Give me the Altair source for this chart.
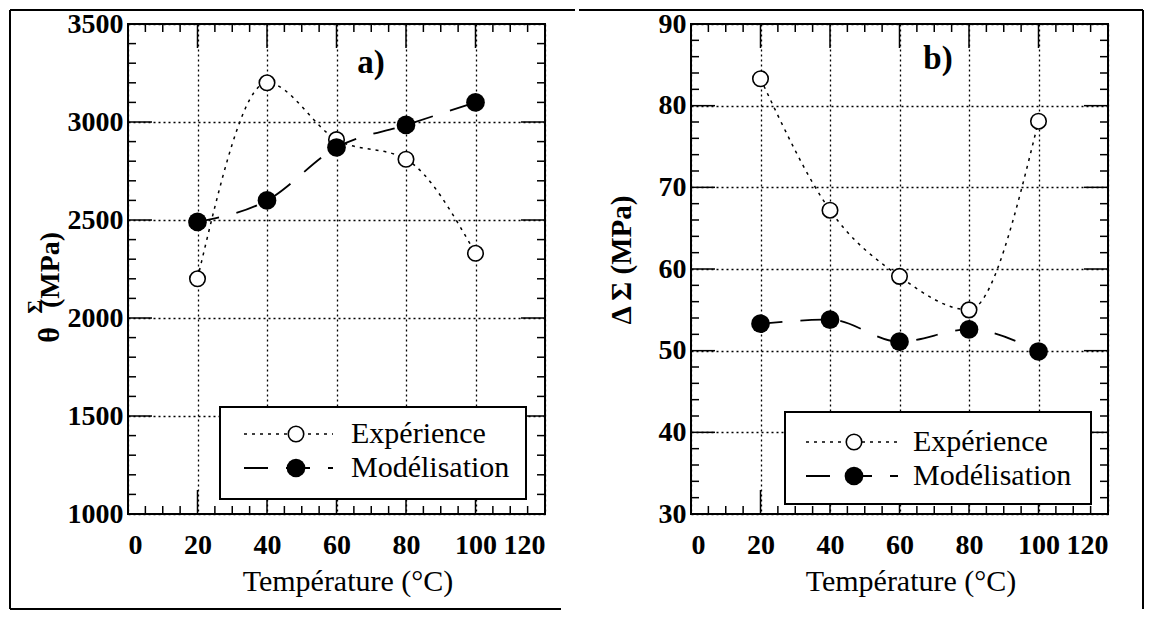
import altair as alt
import pandas as pd

# ---------------- data ----------------
temps = [20, 40, 60, 80, 100]
a_exp = [2200, 3200, 2910, 2810, 2330]
a_mod = [2490, 2600, 2870, 2985, 3100]
b_exp = [83.3, 67.2, 59.1, 55.0, 78.1]
b_mod = [53.3, 53.8, 51.1, 52.6, 49.9]
series = ["Expérience", "Modélisation"]

x_major = [0, 20, 40, 60, 80, 100, 120]
a_y_major = [1000, 1500, 2000, 2500, 3000, 3500]
b_y_major = [30, 40, 50, 60, 70, 80, 90]
x_minor = [v for v in range(0, 121, 5) if v % 20]
a_y_minor = [v for v in range(1000, 3501, 100) if v % 500]
b_y_minor = [v for v in range(30, 91, 2) if v % 10]

W, H = 417, 490
FONT = "Liberation Serif"
ONE = pd.DataFrame({"k": [0]})


def txt(text, x, y, size, weight="normal", align="center", baseline="middle", angle=0):
    kw = dict(text=text, font=FONT, fontSize=size, fontWeight=weight,
              align=align, baseline=baseline, color="black")
    if angle:
        kw["angle"] = angle
    return alt.Chart(ONE).mark_text(**kw).encode(x=alt.value(x), y=alt.value(y))


def hrule(x0, x1, y, width=2, dash=None):
    kw = dict(color="black", strokeWidth=width)
    if dash:
        kw["strokeDash"] = dash
    return alt.Chart(ONE).mark_rule(**kw).encode(
        x=alt.value(x0), x2=alt.value(x1), y=alt.value(y))


def vrule(x, y0, y1, width=2):
    return alt.Chart(ONE).mark_rule(color="black", strokeWidth=width).encode(
        x=alt.value(x), y=alt.value(y0), y2=alt.value(y1))


def build(exp, mod, y_major, y_minor, y_dom, tag, tag_xy, leg, extra):
    xs = alt.Scale(domain=[0, 120], nice=False)
    ys = alt.Scale(domain=y_dom, nice=False, zero=False)
    common = dict(labelFont=FONT, labelFontSize=28, labelFontWeight="bold",
                  labelColor="black", ticks=False, tickSize=0, domain=False,
                  grid=True, gridColor="black", gridDash=[2, 3], gridWidth=1.3,
                  gridOpacity=1, title=None, format="d", labelOverlap=False)
    x_axis = alt.Axis(values=x_major, labelPadding=17, **common)
    y_axis = alt.Axis(values=y_major, labelPadding=5, labelAlign="right",
                      labelBaseline="middle", **common)
    X = alt.X("T:Q", scale=xs, axis=x_axis)
    Y = alt.Y("v:Q", scale=ys, axis=y_axis)

    de = pd.DataFrame({"T": temps, "v": exp, "s": series[0]})
    dm = pd.DataFrame({"T": temps, "v": mod, "s": series[1]})

    line_e = alt.Chart(de).mark_line(color="black", strokeWidth=1.5, strokeDash=[3, 5],
                                     interpolate="monotone").encode(x=X, y=Y)
    line_m = alt.Chart(dm).mark_line(color="black", strokeWidth=1.8, strokeDash=[22, 18],
                                     interpolate="monotone").encode(x=X, y=Y)
    pts_e = alt.Chart(de).mark_point(shape="circle", filled=True, fill="white", stroke="black",
                                     strokeWidth=1.6, size=240, opacity=1).encode(x=X, y=Y)
    pts_m = alt.Chart(dm).mark_point(shape="circle", filled=True, color="black",
                                     size=350, opacity=1).encode(x=X, y=Y)

    ticks = []
    for vals, L in [(x_major, 24), (x_minor, 8)]:
        d = pd.DataFrame({"T": vals})
        for y0, y1 in [(H, H - L), (0, L)]:
            ticks.append(alt.Chart(d).mark_rule(color="black", strokeWidth=1.5).encode(
                x=X, y=alt.value(y0), y2=alt.value(y1)))
    for vals, L in [(y_major, 24), (y_minor, 8)]:
        d = pd.DataFrame({"v": vals})
        for x0, x1 in [(0, L), (W, W - L)]:
            ticks.append(alt.Chart(d).mark_rule(color="black", strokeWidth=1.5).encode(
                y=Y, x=alt.value(x0), x2=alt.value(x1)))

    bx0, bx1, by0, by1, r1, r2, sx0, sx1, cx, tx = leg
    legend = [
        alt.Chart(ONE).mark_rect(fill="white", stroke="black", strokeWidth=2).encode(
            x=alt.value(bx0), x2=alt.value(bx1), y=alt.value(by0), y2=alt.value(by1)),
        hrule(sx0, sx1, r1, width=1.5, dash=[3, 5]),
        hrule(sx0, sx1, r2, width=1.8, dash=[24, 18]),
        alt.Chart(ONE).mark_point(shape="circle", filled=True, fill="white", stroke="black",
                                  strokeWidth=1.6, size=240, opacity=1).encode(
            x=alt.value(cx), y=alt.value(r1)),
        alt.Chart(ONE).mark_point(shape="circle", filled=True, color="black",
                                  size=350, opacity=1).encode(
            x=alt.value(cx), y=alt.value(r2)),
        txt(series[0], tx, r1, 30, align="left"),
        txt(series[1], tx, r2, 30, align="left"),
    ]
    texts = [
        txt(tag, tag_xy[0], tag_xy[1], 33, weight="bold"),
        txt("Température (°C)", 220, H + 68, 30),
    ]
    layers = [line_e, line_m, pts_e, pts_m] + ticks + legend + texts + extra
    return alt.layer(*layers).properties(width=W, height=H)


left_extra = [
    txt("θ", -69, 311, 30, weight="bold", baseline="alphabetic", angle=270),
    txt("Σ", -86, 283, 21, weight="bold", baseline="alphabetic", angle=270),
    txt("(MPa)", -69, 246, 28, weight="bold", baseline="alphabetic", angle=270),
    # figure frame
    vrule(-118, -14, 585),
    hrule(-118, W + 30, -14),
    hrule(-118, W + 16, 585),
]
right_extra = [
    txt("Δ Σ  (MPa)", -60, 236, 29, weight="bold", baseline="alphabetic", angle=270),
    hrule(-112, W + 35, -14),
    vrule(W + 35, -14, 585),
]

left = build(a_exp, a_mod, a_y_major, a_y_minor, [1000, 3500], "a)", (243, 39),
             (92, 398, 383, 475, 410, 444, 116, 205, 168, 223), left_extra)
right = build(b_exp, b_mod, b_y_major, b_y_minor, [30, 90], "b)", (247, 35),
              (94, 400, 388, 480, 418, 452, 115, 207, 163, 222), right_extra)

chart = alt.hconcat(left, right, spacing=0).properties(
    padding=0, background="white").configure_view(stroke="black", strokeWidth=2)

chart.save("out.html", embed_options={"renderer": "svg", "actions": False})
